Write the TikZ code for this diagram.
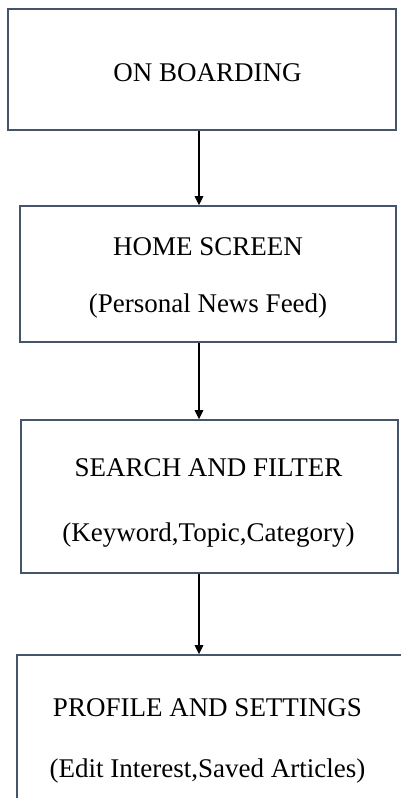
\documentclass[tikz,border=0pt]{standalone}
\usepackage{fontspec}
\setmainfont{Liberation Serif}
\usepackage{xcolor}
\usetikzlibrary{arrows.meta,positioning}

\definecolor{frameblue}{RGB}{68,84,106}

\begin{document}
\begin{tikzpicture}[
x=1pt, y=-1pt,
screen/.style={draw=frameblue, line width=1.6pt, inner sep=0pt},
caption/.style={align=center, inner sep=0pt, font=\fontsize{27}{32}\selectfont},
arrow/.style={-{Triangle[length=9pt, width=8.5pt]}, line width=1.1pt}
]
\useasboundingbox (0,0) rectangle (400,798);
\coordinate (spine) at (199,0);
% frames
\node[screen, minimum width=388pt, minimum height=121pt] (onboard) at (202,69.5) {};
\node[screen, minimum width=376pt, minimum height=136pt] (home) at (208,274) {};
\node[screen, minimum width=377pt, minimum height=153pt] (search) at (209.5,496.5) {};
% last box runs off the page
\node[screen, minimum width=420pt, minimum height=190pt] (profile) at (227,750) {};
% texts
\node[caption] (onboardtext) at (207.5,72.5) {ON BOARDING};
\node[caption] (hometext) at (208,278)
  {HOME SCREEN\\[25pt](Personal News Feed)};
\node[caption] (searchtext) at (208.5,502.5)
  {SEARCH AND FILTER\\[33pt](Keyword,Topic,Category)};
\node[caption] (profiletext) at (207.5,740.5)
  {PROFILE AND SETTINGS\\[29pt](Edit Interest,Saved Articles)};
\draw[arrow] (onboard.south -| spine) -- (home.north -| spine);
\draw[arrow] (home.south -| spine) -- (search.north -| spine);
\draw[arrow] (search.south -| spine) -- (profile.north -| spine);
\end{tikzpicture}
\end{document}
